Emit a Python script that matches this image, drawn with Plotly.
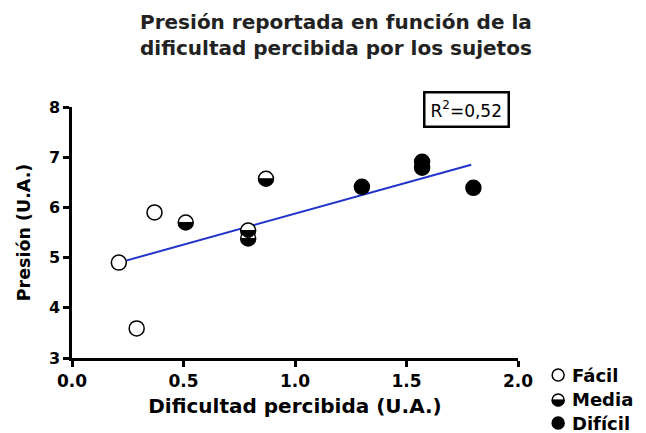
import numpy as np
import plotly.graph_objects as go

# ---- data ----
facil_x = [0.21, 0.29, 0.37]
facil_y = [4.90, 3.59, 5.90]
media_x = [0.51, 0.79, 0.79, 0.87]
media_y = [5.70, 5.54, 5.38, 6.57]
dificil_x = [1.30, 1.57, 1.57, 1.80]
dificil_y = [6.41, 6.91, 6.79, 6.39]
fit_x = [0.21, 1.79]
fit_y = [4.90, 6.85]
x_ticks = [0.0, 0.5, 1.0, 1.5, 2.0]
x_tick_labels = ["0.0", "0.5", "1.0", "1.5", "2.0"]
y_ticks = [3, 4, 5, 6, 7, 8]
legend_labels = ["Fácil", "Media", "Difícil"]
r2_text = "R<sup>2</sup>=0,52"

FONT = "DejaVu Sans, Verdana, sans-serif"
MS = 15      # marker diameter px
R = 7.0      # half-disc radius px

fig = go.Figure()

fig.add_trace(go.Scatter(x=fit_x, y=fit_y, mode="lines",
                         line=dict(color="#2233cc", width=2), showlegend=False, hoverinfo="skip"))

fig.add_trace(go.Scatter(x=facil_x, y=facil_y, mode="markers", name=legend_labels[0], showlegend=False,
                         marker=dict(symbol="circle", size=MS, color="white",
                                     line=dict(color="black", width=1.5))))
fig.add_trace(go.Scatter(x=media_x, y=media_y, mode="markers", name=legend_labels[1], showlegend=False,
                         marker=dict(symbol="circle", size=MS, color="white",
                                     line=dict(color="black", width=1.5))))
fig.add_trace(go.Scatter(x=dificil_x, y=dificil_y, mode="markers", name=legend_labels[2], showlegend=False,
                         marker=dict(symbol="circle", size=MS, color="black",
                                     line=dict(color="black", width=1.5))))


def half_disc_path(r):
    t = np.linspace(0, np.pi, 25)
    pts = [(r * np.cos(a), -r * np.sin(a)) for a in t]
    return "M " + " L ".join(f"{px:.2f},{py:.2f}" for px, py in pts) + " Z"


shapes = []
for mx, my in zip(media_x, media_y):
    shapes.append(dict(type="path", xref="x", yref="y", xsizemode="pixel", ysizemode="pixel",
                       xanchor=mx, yanchor=my, path=half_disc_path(R),
                       fillcolor="black", line=dict(color="black", width=1)))

# manual legend (paper coords)
leg_x = 1.090
leg_y = [-0.068, -0.167, -0.259]
fills = ["white", "white", "black"]
for i, ly in enumerate(leg_y):
    shapes.append(dict(type="circle", xref="paper", yref="paper", xsizemode="pixel", ysizemode="pixel",
                       xanchor=leg_x, yanchor=ly, x0=-6, x1=6, y0=-6, y1=6,
                       fillcolor=fills[i], line=dict(color="black", width=1.5)))
    if i == 1:
        shapes.append(dict(type="path", xref="paper", yref="paper", xsizemode="pixel", ysizemode="pixel",
                           xanchor=leg_x, yanchor=ly, path=half_disc_path(6),
                           fillcolor="black", line=dict(color="black", width=1)))

annotations = []
for lab, ly in zip(legend_labels, leg_y):
    annotations.append(dict(x=leg_x, y=ly, xref="paper", yref="paper", text=f"<b>{lab}</b>",
                            showarrow=False, xanchor="left", yanchor="middle", xshift=12,
                            font=dict(family=FONT, size=18, color="black")))

annotations.append(dict(x=0.884, y=0.992, xref="paper", yref="paper", text=r2_text, showarrow=False,
                        xanchor="center", yanchor="middle", bordercolor="black", borderwidth=2.5,
                        borderpad=5, bgcolor="white", font=dict(family=FONT, size=17, color="black")))

fig.update_layout(
    width=646, height=433,
    margin=dict(l=72, r=128, t=107, b=75),
    paper_bgcolor="white", plot_bgcolor="white",
    title=dict(text="<b>Presión reportada en función de la<br>dificultad percibida por los sujetos</b>",
               x=0.52, xanchor="center", y=0.932, yanchor="top",
               font=dict(family=FONT, size=20, color="#222222")),
    font=dict(family=FONT, color="black"),
    shapes=shapes, annotations=annotations,
    xaxis=dict(range=[0, 2], tickvals=x_ticks, ticktext=[f"<b>{t}</b>" for t in x_tick_labels],
               showgrid=False, zeroline=False, showline=True, linecolor="black", linewidth=2.5,
               ticks="outside", ticklen=6, tickwidth=2.5, tickcolor="black",
               tickfont=dict(family=FONT, size=17, color="black"),
               title=dict(text="<b>Dificultad percibida (U.A.)</b>", standoff=9,
                          font=dict(family=FONT, size=20, color="black"))),
    yaxis=dict(range=[3, 8], tickvals=y_ticks, ticktext=[f"<b>{t}</b>" for t in y_ticks],
               showgrid=False, zeroline=False, showline=True, linecolor="black", linewidth=2.5,
               ticks="outside", ticklen=6, tickwidth=2.5, tickcolor="black",
               tickfont=dict(family=FONT, size=16, color="black"),
               title=dict(text="<b>Presión (U.A.)</b>", standoff=14,
                          font=dict(family=FONT, size=17.5, color="black"))),
)

fig.write_html("out.html")
